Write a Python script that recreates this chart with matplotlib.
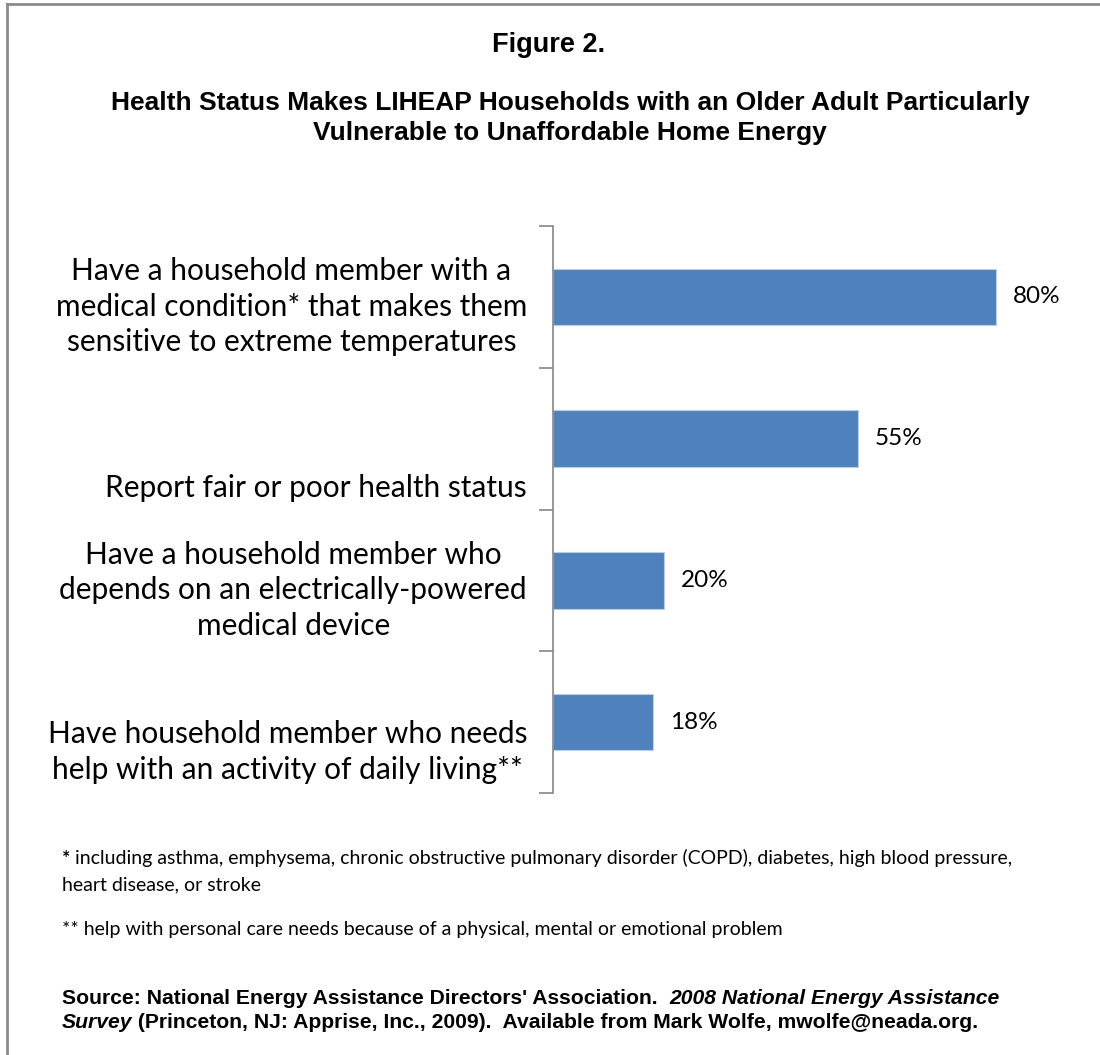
import matplotlib
matplotlib.use("Agg")
import matplotlib.pyplot as plt

# data
categories = [
    "Have a household member with a\nmedical condition* that makes them\nsensitive to extreme temperatures",
    "Report fair or poor health status",
    "Have a household member who\ndepends on an electrically-powered\nmedical device",
    "Have household member who needs\nhelp with an activity of daily living**",
]
values = [80, 55, 20, 18]
value_labels = ["80%", "55%", "20%", "18%"]
# excel puts the category text a bit lower than the bar centre (px)
label_offsets = [10, 49, 10, 30]

title = "Figure 2."
subtitle = ("Health Status Makes LIHEAP Households with an Older Adult Particularly\n"
            "Vulnerable to Unaffordable Home Energy")
note1 = ["including asthma, emphysema, chronic obstructive pulmonary disorder (COPD), diabetes, high blood pressure,",
         "heart disease, or stroke"]
note2 = "** help with personal care needs because of a physical, mental or emotional problem"

W, H = 1100, 1055
fig = plt.figure(figsize=(W / 100, H / 100), dpi=100)
fig.patch.set_facecolor("white")

# frame (only left and top edges visible in the original crop)
fig.add_artist(plt.Line2D([7 / W, 7 / W], [0, 1 - 4 / H], color="#8c8c8c", lw=2, transform=fig.transFigure))
fig.add_artist(plt.Line2D([7 / W, 1], [1 - 4 / H, 1 - 4 / H], color="#8c8c8c", lw=2, transform=fig.transFigure))

ax = fig.add_axes([553 / W, 1 - 793 / H, 547 / W, 567 / H])
ypos = list(range(len(values)))
ax.barh(ypos, values, height=0.4, color="#4F81BD", edgecolor="#B9CDE5", linewidth=0.8)
ax.set_ylim(len(values) - 0.5, -0.5)
ax.set_xlim(0, 547 / 5.54)

for s in ["top", "right", "bottom"]:
    ax.spines[s].set_visible(False)
ax.spines["left"].set_color("#868686")
ax.spines["left"].set_linewidth(1.2)
ax.set_xticks([])
ax.set_yticks([i - 0.5 for i in range(len(values) + 1)])
ax.set_yticklabels([])
ax.tick_params(axis="y", length=10, width=1.2, color="#868686")

cat_font = "Lato"
for i, (v, lab) in enumerate(zip(values, value_labels)):
    ax.annotate(lab, (v, i), xytext=(17, 0), textcoords="offset pixels",
                va="center", ha="left", fontsize=17.5, family=cat_font)
    ax.annotate(categories[i], (0, i), xycoords=("axes fraction", "data"),
                xytext=(527 - 553, -label_offsets[i]), textcoords="offset pixels",
                ha="right", va="center", multialignment="center",
                fontsize=21.5, family=cat_font, linespacing=1.33)

fig.text(549 / W, 1 - 45 / H, title, ha="center", va="center", fontsize=19.5,
         fontweight="bold", family="Liberation Sans")
fig.text(570 / W, 1 - 118 / H, subtitle, ha="center", va="center", fontsize=19,
         fontweight="bold", family="Liberation Sans", linespacing=1.3)

renderer = fig.canvas.get_renderer()


def run(x, y, parts):
    # draw text pieces one after another on a single line
    for txt, kw in parts:
        t = fig.text(x / W, 1 - y / H, txt, ha="left", va="center", **kw)
        bb = t.get_window_extent(renderer=renderer)
        x += bb.width


small = dict(fontsize=14, family=cat_font)
run(62, 858, [("* ", dict(small, fontweight="bold")), (note1[0], small)])
run(62, 885, [(note1[1], small)])
run(62, 930, [(note2, small)])

src = dict(fontsize=15.2, family="Liberation Sans", fontweight="bold")
srci = dict(src, style="italic")
run(62, 998, [("Source: National Energy Assistance Directors' Association.  ", src),
              ("2008 National Energy Assistance", srci)])
run(62, 1022, [("Survey", srci),
               (" (Princeton, NJ: Apprise, Inc., 2009).  Available from Mark Wolfe, mwolfe@neada.org.", src)])

fig.savefig("out.png", dpi=100)
